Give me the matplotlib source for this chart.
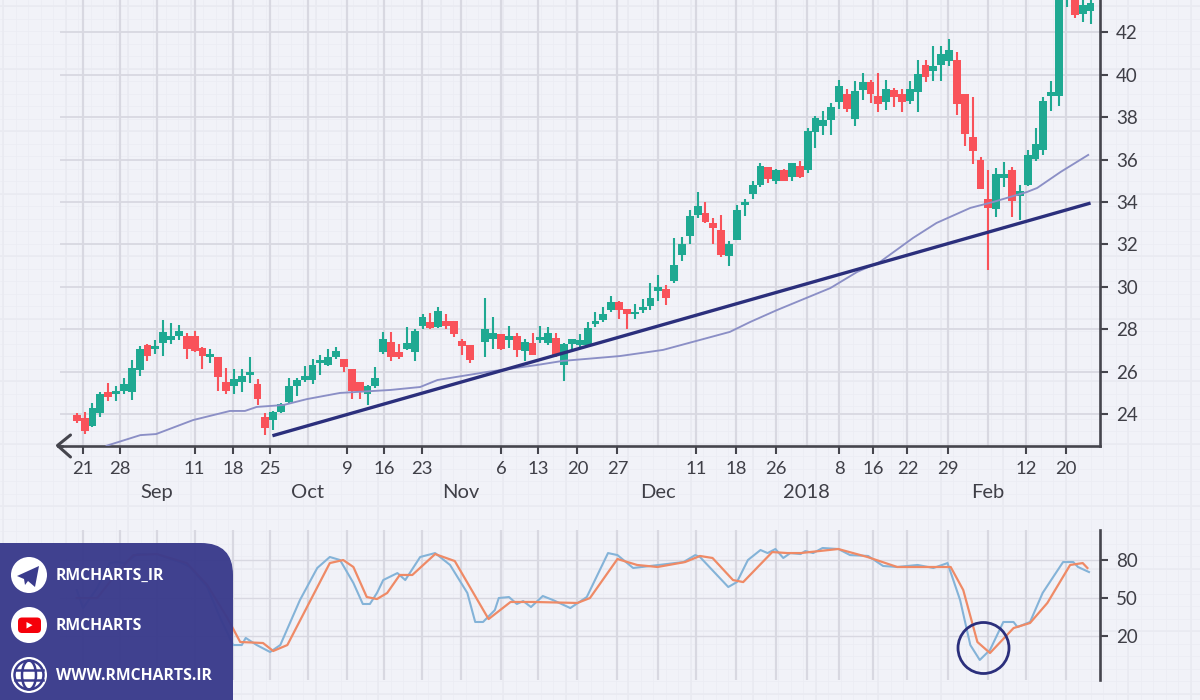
#!/usr/bin/env python3
"""Candlestick chart with moving average, trendline and stochastic panel."""
import matplotlib
matplotlib.use("Agg")
import matplotlib.pyplot as plt
from matplotlib.patches import Circle, FancyBboxPatch, Polygon, Ellipse
import numpy as np

nan = float("nan")

opens = [23.95, 23.8, 23.45, 24.05, 25.05, 24.95, 25.1, 25.05, 26.05, 27.25,
         27.05, 27.35, 27.5, 27.7, 27.7, 27.7, 27.1, 26.7, 26.7, 25.5,
         25.3, 25.5, 25.85, 25.4, 23.85, 23.7, 24.1, 24.55, 25.3, 25.6,
         25.6, 26.4, 26.3, 26.7, 26.6, 26.1, 25.5, 24.95, 25.3, 26.9,
         27.4, 26.9, 27.05, 26.9, 28.15, 28.35, 28.1, 28.4, 28.4, 27.45,
         27.25, nan, 27.4, 27.55, 27.75, 27.5, 27.7, 26.95, 27.35, 27.5,
         27.35, 27.6, 26.3, 27.3, 27.25, 27.25, 28.25, 28.45, 28.9, 29.3,
         28.95, 28.7, 28.9, 29.1, 29.8, 29.9, 30.25, 31.5, 32.4, 33.4,
         33.5, 33.0, 32.7, 31.45, 32.2, 33.85, 34.4, 34.8, 35.65, 35.0,
         35.5, 35.2, 35.7, 35.5, 37.3, 37.6, 37.85, 38.7, 39.1, 37.9,
         39.3, 39.65, 39.0, 38.7, 39.3, 39.1, 38.75, 39.2, 40.45, 40.2,
         40.45, 40.65, 40.7, 39.1, 37.05, 36.0, 34.15, 33.65, 35.15, 35.5,
         34.3, 34.8, 36.05, 36.45, 39.0, 39.0, 43.7, 44.2, 42.87, 43.0]
closes = [23.65, 23.2, 24.3, 24.95, 24.8, 25.1, 25.4, 26.15, 27.05, 26.75,
          27.2, 27.85, 27.7, 27.9, 27.05, 26.95, 26.75, 26.85, 25.75, 25.1,
          25.65, 25.8, 26.0, 24.7, 23.35, 24.1, 24.45, 25.3, 25.6, 25.8,
          26.3, 26.55, 26.7, 26.95, 26.2, 25.1, 25.1, 25.3, 25.7, 27.55,
          26.7, 26.7, 27.35, 27.9, 28.55, 28.05, 28.85, 28.15, 27.75, 27.2,
          26.55, nan, 28.0, 27.8, 27.05, 27.7, 27.0, 27.4, 26.8, 27.65,
          27.8, 26.8, 27.3, 27.55, 27.5, 28.05, 28.4, 28.7, 29.3, 28.9,
          28.7, 28.8, 29.05, 29.45, 30.0, 29.45, 31.05, 32.0, 33.35, 33.8,
          33.05, 32.75, 31.5, 32.0, 33.6, 34.0, 34.8, 35.7, 35.1, 35.5,
          35.0, 35.85, 35.2, 37.35, 37.95, 37.85, 38.5, 39.45, 38.4, 39.25,
          39.65, 39.1, 38.6, 39.35, 38.95, 38.7, 39.35, 40.05, 39.9, 40.4,
          41.0, 41.15, 38.6, 37.2, 36.4, 34.6, 33.7, 35.3, 35.3, 34.05,
          34.5, 36.2, 36.75, 38.75, 39.2, 43.6, 44.1, 42.8, 43.3, 43.4]
highs = [24.05, 24.1, 24.5, 25.05, 25.45, 25.3, 25.7, 26.55, 27.2, 27.3,
         27.5, 28.45, 28.3, 28.2, 27.8, 27.9, 27.15, 27.05, 26.7, 26.15,
         26.1, 26.1, 26.7, 25.65, 24.05, 24.15, 24.5, 25.7, 25.7, 26.25,
         26.6, 26.8, 27.05, 27.15, 26.6, 26.1, 25.5, 25.35, 26.2, 27.85,
         27.85, 27.3, 28.1, 28.0, 28.7, 28.75, 29.05, 28.7, 28.4, 27.55,
         27.25, nan, 29.45, 28.55, 27.75, 28.15, 27.8, 27.55, 27.8, 28.15,
         28.1, 27.8, 27.35, 27.55, 27.75, 28.35, 28.8, 29.05, 29.55, 29.35,
         28.95, 29.2, 29.4, 30.2, 30.55, 30.1, 32.3, 32.35, 33.6, 34.45,
         34.0, 33.25, 33.4, 32.15, 33.85, 34.15, 35.0, 35.85, 35.65, 35.55,
         35.55, 35.85, 35.95, 37.5, 38.05, 38.3, 38.65, 39.75, 39.35, 39.7,
         40.1, 39.75, 40.1, 39.75, 39.4, 39.35, 39.7, 40.7, 40.7, 41.35,
         41.35, 41.7, 41.1, 39.1, 38.95, 36.1, 35.5, 35.6, 35.9, 35.65,
         34.8, 36.45, 37.5, 38.95, 39.7, 44.0, 44.5, 44.5, 43.6, 43.6]
lows = [23.55, 23.05, 23.4, 23.85, 24.6, 24.6, 24.95, 24.65, 25.8, 26.5,
        26.85, 26.75, 27.3, 27.5, 26.6, 26.9, 26.1, 26.4, 25.1, 24.95,
        24.95, 25.05, 25.45, 24.4, 23.0, 23.25, 24.05, 24.45, 24.85, 25.5,
        25.4, 25.85, 26.25, 26.6, 26.0, 24.7, 24.7, 24.4, 25.2, 26.85,
        26.5, 26.6, 27.0, 26.5, 28.0, 28.0, 28.05, 28.0, 27.65, 26.8,
        26.4, nan, 26.7, 27.05, 27.0, 27.1, 26.7, 26.5, 26.8, 27.35,
        27.25, 26.7, 25.55, 27.05, 27.15, 27.15, 28.1, 28.35, 28.8, 28.5,
        28.0, 28.5, 28.75, 28.9, 29.35, 29.15, 30.2, 31.2, 32.0, 33.25,
        33.0, 32.0, 31.4, 31.0, 32.2, 33.35, 34.15, 34.7, 34.9, 34.85,
        35.0, 35.0, 35.15, 35.35, 36.55, 37.15, 37.15, 38.4, 38.25, 37.6,
        38.8, 38.65, 38.25, 38.35, 38.5, 38.25, 38.6, 38.25, 39.65, 39.7,
        39.7, 40.4, 38.1, 36.65, 35.8, 34.6, 30.8, 33.3, 34.7, 33.3,
        33.15, 34.75, 35.95, 36.2, 38.3, 38.55, 43.2, 42.7, 42.5, 42.4]

ma_x = [3.8, 8.1, 10.1, 14.8, 19.5, 21.4, 22.9, 26.3, 29.3, 33.5, 39.9, 43.7, 45.9, 52.2, 58.6, 61.8, 69.1,
        74.6, 79.3, 83.1, 85.7, 89.1, 95.9, 99.3, 102.2, 106.4, 109.4, 113.7, 116.6, 120.9, 122.2, 125.2, 128.7]
ma_y = [22.5, 23.0, 23.05, 23.71, 24.14, 24.14, 24.33, 24.42, 24.7, 24.99, 25.13, 25.27, 25.6, 25.98, 26.31, 26.5, 26.73,
        27.02, 27.49, 27.87, 28.34, 28.9, 29.94, 30.7, 31.17, 32.3, 33.01, 33.72, 34.0, 34.47, 34.66, 35.42, 36.22]

trend_x = [24.9, 129.0]
trend_y = [22.97, 33.95]

k_x = [0.0, 0.8, 2.6, 4.2, 5.1, 6.1, 7.7, 10.2, 13.1, 14.4, 16.6, 18.2, 19.9, 21.0, 21.5, 22.9, 24.6, 25.9,
       28.4, 30.6, 32.2, 33.5, 35.2, 36.4, 37.3, 38.2, 39.0, 40.8, 41.8, 43.7, 45.6, 47.5, 49.7, 50.7, 51.7,
       53.2, 53.7, 55.0, 56.0, 56.8, 57.8, 59.3, 60.6, 62.8, 64.9, 67.6, 68.8, 70.8, 77.2, 78.7, 79.3, 82.9,
       84.0, 85.4, 87.0, 87.9, 88.9, 89.9, 90.8, 92.1, 92.7, 93.7, 94.9, 96.9, 98.4, 100.7, 102.6, 104.4,
       107.0, 109.0, 110.8, 112.4, 113.7, 114.9, 116.2, 117.9, 119.2, 119.7, 121.3, 122.9, 125.5, 126.8, 127.4, 128.8]
k_y = [56.3, 42.1, 57.9, 77.6, 78.4, 77.6, 84.7, 84.7, 78.4, 74.5, 58.7, 35.0, 12.9, 12.9, 18.5, 12.9, 7.4, 12.9,
       48.4, 73.7, 82.4, 80.0, 61.9, 45.3, 45.3, 54.0, 64.2, 69.7, 64.2, 82.4, 85.5, 76.1, 54.0, 31.1, 31.1,
       40.5, 50.0, 50.8, 45.3, 47.6, 42.9, 51.6, 48.4, 42.1, 50.8, 85.5, 83.9, 73.7, 78.4, 83.9, 82.4, 58.7,
       62.6, 80.0, 87.9, 85.5, 88.7, 81.6, 85.5, 84.7, 87.1, 85.5, 89.5, 88.7, 83.9, 83.2, 75.3, 74.5,
       76.1, 73.7, 77.6, 48.4, 12.9, 1.1, 9.0, 31.1, 31.1, 27.1, 31.1, 54.0, 78.4, 78.4, 74.5, 70.5]
d_x = [0.0, 2.6, 5.1, 7.2, 10.2, 14.0, 16.6, 19.1, 20.8, 23.7, 25.0, 26.8, 29.3, 32.2, 33.9, 35.2, 36.9, 38.2,
       39.5, 41.1, 42.7, 45.6, 48.1, 50.1, 52.4, 55.2, 58.1, 63.7, 65.3, 68.8, 71.3, 73.9, 77.4, 79.3, 80.9,
       83.5, 84.8, 88.5, 90.4, 92.1, 96.9, 100.6, 104.4, 111.2, 112.8, 114.6, 116.2, 119.2, 121.3, 123.5,
       126.4, 128.0, 128.6]
d_y = [50.0, 50.0, 69.7, 83.9, 84.7, 77.6, 60.3, 35.0, 15.3, 14.5, 8.2, 12.9, 42.9, 77.6, 80.0, 74.5, 50.8, 49.2,
       54.0, 68.2, 68.2, 84.7, 79.2, 57.9, 33.4, 46.9, 46.9, 46.1, 50.0, 80.8, 76.1, 74.5, 78.4, 83.2, 81.6,
       64.2, 62.6, 86.3, 85.5, 85.5, 88.7, 82.4, 74.5, 74.5, 56.3, 15.3, 6.6, 26.3, 30.3, 46.1,
       76.1, 77.6, 73.7]

day_pos = [0.8, 5.5, 15.0, 19.9, 24.6, 34.4, 39.1, 43.9, 54.0, 58.7, 63.7, 68.8, 78.8, 83.9, 89.0, 97.0, 101.3, 105.7,
           110.8, 120.8, 125.9]
day_labels = ["21", "28", "11", "18", "25", "9", "16", "23", "6", "13", "20", "27", "11", "18", "26", "8", "16", "22",
              "29", "12", "20"]
month_pos = [10.2, 29.4, 48.9, 73.9, 92.9, 115.9]
month_labels = ["Sep", "Oct", "Nov", "Dec", "2018", "Feb"]
price_ticks = [24, 26, 28, 30, 32, 34, 36, 38, 40, 42]
stoch_ticks = [20, 50, 80]

UP = "#1fa992"
DOWN = "#f9525a"
NAVY = "#2b2f7c"
AXIS = "#45454d"
TEXT = "#3f3f47"
GRID = "#d8d8e1"
BG = "#f1f2f8"
PANEL = "#3a3b8c"

plt.rcParams["font.family"] = ["Lato", "DejaVu Sans"]
W, H = 1200, 700


def px_axes(fig, left, top, right, bottom, **kw):
    return fig.add_axes([left / W, 1 - bottom / H, (right - left) / W, (bottom - top) / H], **kw)


def draw_paper(fig):
    ax = px_axes(fig, 0, 0, W, H, zorder=-1)
    ax.set_xlim(0, W)
    ax.set_ylim(H, 0)
    ax.axis("off")
    ax.add_patch(plt.Rectangle((0, 0), W, H, color=BG, zorder=0))
    for x in np.arange(3, W, 12.5):
        ax.axvline(x, color="#ebecf3", lw=0.5, zorder=1)
    for y in np.arange(6, H, 12.5):
        ax.axhline(y, color="#ebecf3", lw=0.5, zorder=1)
    for x in np.arange(3, W, 62.5):
        ax.axvline(x, color="#e9eaf1", lw=1.1, zorder=1)
    for y in np.arange(6, H, 62.5):
        ax.axhline(y, color="#e9eaf1", lw=1.1, zorder=1)


def style_axes(ax):
    ax.patch.set_alpha(0)
    ax.set_xlim(-2.13, 130.2)
    for side in ["top", "left"]:
        ax.spines[side].set_visible(False)
    ax.spines["right"].set_linewidth(1.9)
    ax.spines["right"].set_color(AXIS)
    ax.yaxis.tick_right()
    ax.tick_params(axis="y", length=5.5, width=1.5, color=AXIS, labelcolor=TEXT, labelsize=13.5, pad=6)
    ax.set_axisbelow(True)


def draw_price(ax):
    xs = np.arange(len(opens))
    o, c = np.array(opens), np.array(closes)
    colors = [UP if b >= a else DOWN for a, b in zip(o, c)]
    ax.vlines(xs, lows, highs, colors=colors, lw=1.5, zorder=3)
    ax.bar(xs, np.abs(c - o), bottom=np.minimum(o, c), width=1.0, color=colors, zorder=3, lw=0)
    ax.plot(ma_x, ma_y, color="#8b8fc6", lw=1.35, zorder=4)
    ax.plot(trend_x, trend_y, color=NAVY, lw=2.4, zorder=5, solid_capstyle="butt")

    ax.set_ylim(22.51, 43.53)
    ax.set_yticks(price_ticks)
    ax.spines["bottom"].set_linewidth(1.9)
    ax.spines["bottom"].set_color(AXIS)
    ax.set_xticks(day_pos, day_labels)
    ax.set_xticks(month_pos, month_labels, minor=True)
    ax.tick_params(axis="x", which="major", length=6, width=1.5, color=AXIS, labelcolor=TEXT, labelsize=13.3, pad=5.5)
    ax.tick_params(axis="x", which="minor", length=0, labelcolor=TEXT, labelsize=14.5, pad=28)
    ax.grid(axis="x", which="both", color=GRID, lw=1.6)
    ax.grid(axis="y", color=GRID, lw=1.3)


def draw_stoch(ax):
    ax.plot(k_x, k_y, color="#84b3d8", lw=1.5, zorder=3)
    ax.plot(d_x, d_y, color="#ef8a66", lw=1.6, zorder=4)
    ax.set_ylim(-14.7, 103.7)
    ax.set_yticks(stoch_ticks)
    ax.spines["bottom"].set_visible(False)
    ax.set_xticks(day_pos + month_pos)
    ax.tick_params(axis="x", length=0, labelbottom=False)
    ax.grid(axis="x", color=GRID, lw=1.6)
    ax.grid(axis="y", color=GRID, lw=1.0)


def draw_overlay(fig):
    ax = px_axes(fig, 0, 0, W, H, zorder=10)
    ax.set_xlim(0, W)
    ax.set_ylim(H, 0)
    ax.axis("off")
    ax.patch.set_alpha(0)

    # axis arrow on the left and the marker circle around the stochastic low
    ax.plot([70.5, 57.5, 70.5], [435, 445.5, 457], color=AXIS, lw=2.2, solid_capstyle="round")
    ax.plot([57.5, 62], [445.5, 445.5], color=AXIS, lw=1.9)
    ax.add_patch(Circle((983.5, 648), 25.5, fill=False, ec=NAVY, lw=2.0))

    # contact panel
    ax.add_patch(FancyBboxPatch((-60, 543), 293, 260, boxstyle="round,pad=0,rounding_size=32",
                                fc=PANEL, ec="none", alpha=0.97))
    for y in [575, 625, 675]:
        ax.add_patch(Circle((29, y), 18, fc="white", ec="none"))
    ax.add_patch(Polygon([(17, 576), (39, 566), (35, 587), (28, 581), (25, 585), (24, 579)], fc=PANEL, ec="none"))
    ax.add_patch(FancyBboxPatch((18, 617.5), 23, 15.5, boxstyle="round,pad=0,rounding_size=4", fc="#f5000a", ec="none"))
    ax.add_patch(Polygon([(26.5, 622), (26.5, 628.5), (32.5, 625.2)], fc="white", ec="none"))
    ax.add_patch(Circle((29, 675), 14.5, fill=False, ec=PANEL, lw=1.8))
    ax.add_patch(Ellipse((29, 675), 14, 29, fill=False, ec=PANEL, lw=1.8))
    ax.plot([15, 43], [670, 670], color=PANEL, lw=1.8)
    ax.plot([15, 43], [680, 680], color=PANEL, lw=1.8)
    for y, s in zip([576, 626, 676], ["RMCHARTS_IR", "RMCHARTS", "WWW.RMCHARTS.IR"]):
        ax.text(56, y, s, color="white", fontsize=11.3, fontweight="bold", va="center", ha="left",
                family=["Open Sans", "DejaVu Sans"])


def main():
    fig = plt.figure(figsize=(12, 7), dpi=100)
    draw_paper(fig)
    price_ax = px_axes(fig, 60, 0, 1100, 445.5)
    style_axes(price_ax)
    draw_price(price_ax)
    stoch_ax = px_axes(fig, 60, 530, 1100, 680)
    style_axes(stoch_ax)
    draw_stoch(stoch_ax)
    draw_overlay(fig)
    fig.savefig("out.png", dpi=100)


if __name__ == "__main__":
    main()
